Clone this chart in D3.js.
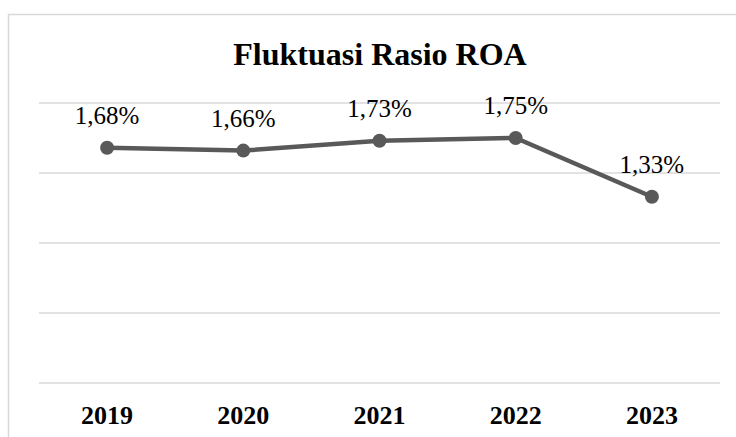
<!DOCTYPE html>
<html><head><meta charset="utf-8">
<script src="https://cdn.jsdelivr.net/npm/d3@7"></script>
<style>body{margin:0;background:#fff} text{font-family:"Liberation Serif","Times New Roman",Times,"DejaVu Serif",serif}</style>
</head><body>
<svg id="c" width="736" height="437"></svg>
<script>
const categories = ["2019","2020","2021","2022","2023"];
const values = [1.68, 1.66, 1.73, 1.75, 1.33];
const labels = ["1,68%","1,66%","1,73%","1,75%","1,33%"];
const yTicks = [0, 0.5, 1, 1.5, 2];
const title = "Fluktuasi Rasio ROA";

const svg = d3.select("#c");
svg.append("path").attr("d","M8.5,437 L8.5,14.5 L736,14.5")
  .attr("fill","none").attr("stroke","#d9d9d9").attr("stroke-width",1.5);

const x = d3.scaleBand().domain(categories).range([39,720]);
const y = d3.scaleLinear().domain([0,2]).range([383,103]);

svg.append("g").selectAll("line").data(yTicks).join("line")
  .attr("x1",39).attr("x2",720)
  .attr("y1",d=>y(d)).attr("y2",d=>y(d))
  .attr("stroke","#d9d9d9").attr("stroke-width",1.5);

svg.append("text").attr("x",380).attr("y",65).attr("text-anchor","middle")
  .attr("font-weight","bold").attr("font-size",32)
  .text(title);

const cx = d => x(d) + x.bandwidth()/2;
const line = d3.line().x((d,i)=>cx(categories[i])).y(d=>y(d));
svg.append("path").datum(values).attr("d",line)
  .attr("fill","none").attr("stroke","#595959").attr("stroke-width",4.5).attr("stroke-linejoin","round");

svg.append("g").selectAll("circle").data(values).join("circle")
  .attr("cx",(d,i)=>cx(categories[i])).attr("cy",d=>y(d)).attr("r",7).attr("fill","#595959");

svg.append("g").selectAll("text").data(values).join("text")
  .attr("x",(d,i)=>cx(categories[i])).attr("y",d=>y(d)-24)
  .attr("text-anchor","middle").attr("font-size",25)
  .attr("fill","#000").text((d,i)=>labels[i]);

svg.append("g").selectAll("text").data(categories).join("text")
  .attr("x",d=>cx(d)).attr("y",424).attr("text-anchor","middle")
  .attr("font-weight","bold").attr("font-size",26)
  .text(d=>d);
</script>
</body></html>
